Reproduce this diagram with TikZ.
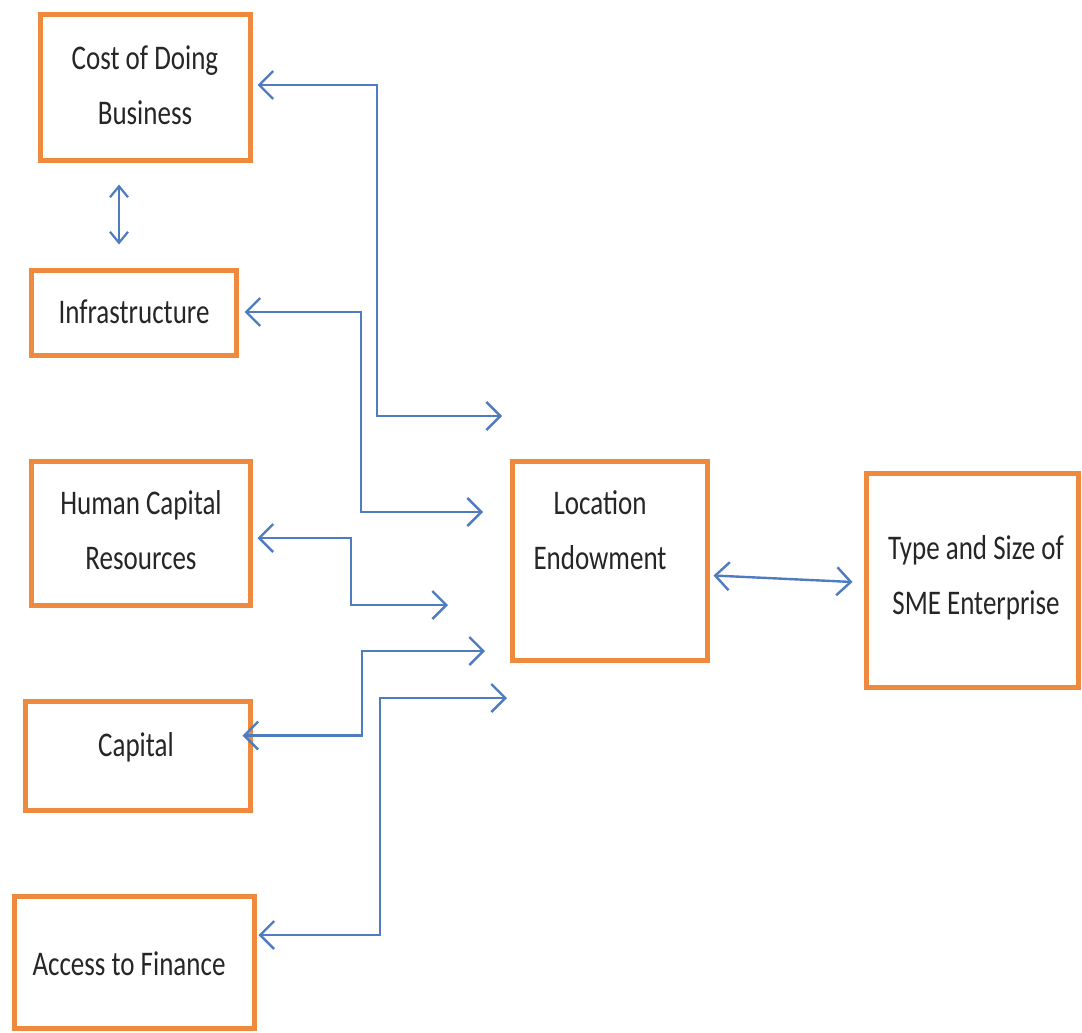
\documentclass[tikz,border=0pt]{standalone}
\usepackage{fontspec}
\setmainfont{Carlito}
\usetikzlibrary{arrows.meta,calc}
\definecolor{boxorange}{RGB}{238,137,62}
\definecolor{linkblue}{RGB}{79,124,192}
\newcommand{\lbltxt}[1]{\scalebox{1}[1.28]{\begin{tabular}{@{}c@{}}#1\end{tabular}}}
\begin{document}
\begin{tikzpicture}[x=1pt,y=-1pt,
  box/.style={draw=boxorange,line width=5pt,rectangle,inner sep=0pt},
  txt/.style={font=\fontsize{27}{43}\selectfont,text=black!85,inner sep=0pt},
  link/.style={draw=linkblue,line width=2.4pt,
    arrows={Straight Barb[length=14pt,width=28pt,line width=2.4pt]-Straight Barb[length=14pt,width=28pt,line width=2.4pt]}},
  linksmall/.style={draw=linkblue,line width=2.2pt,
    arrows={Straight Barb[length=11pt,width=18pt,line width=2.2pt]-Straight Barb[length=11pt,width=18pt,line width=2.2pt]}}]
\useasboundingbox (0,0) rectangle (1082,1033);
\fill[white] (0,0) rectangle (1082,1033);
% boxes
\node[box,minimum width=210pt,minimum height=145pt] (cost) at (145,87.5) {};
\node[box,minimum width=205pt,minimum height=85pt] (infra) at (133.5,312.5) {};
\node[box,minimum width=219pt,minimum height=144pt] (hc) at (140.5,533) {};
\node[box,minimum width=225pt,minimum height=109pt] (cap) at (137.5,755.5) {};
\node[box,minimum width=240pt,minimum height=132pt] (acc) at (134,962) {};
\node[box,minimum width=195pt,minimum height=199pt] (loc) at (609.5,560.5) {};
\node[box,minimum width=212pt,minimum height=214pt] (type) at (972,580) {};
% texts
\node[txt] (costt) at (145,86) {\lbltxt{Cost of Doing\\Business}};
\node[txt] (infrat) at (134,312) {\lbltxt{Infrastructure}};
\node[txt] (hct) at (141,531) {\lbltxt{Human Capital\\Resources}};
\node[txt] (capt) at (136,745) {\lbltxt{Capital}};
\node[txt] (acct) at (129,964) {\lbltxt{Access to Finance}};
\node[txt] (loct) at (600,531) {\lbltxt{Location\\Endowment}};
\node[txt] (typet) at (976,576) {\lbltxt{Type and Size of\\SME Enterprise}};
% free ends
\coordinate (e1) at (502,416);
\coordinate (e2) at (483,512);
\coordinate (e3) at (448,605);
\coordinate (e4) at (485,651);
\coordinate (e5) at (507,698);
% connectors
\draw[link] ($(cost.east)+(5,-2.5)$) -| ([xshift=-125pt]e1) -- (e1);
\draw[link] ($(infra.east)+(6,-0.5)$) -| ([xshift=-122pt]e2) -- (e2);
\draw[link] ($(hc.east)+(5,5)$) -| ([xshift=-97pt]e3) -- (e3);
\draw[link] ($(cap.east)+(-10,-20)$) -| ([xshift=-123pt]e4) -- (e4);
\draw[link] ($(acc.east)+(2,-27)$) -| ([xshift=-127pt]e5) -- (e5);
\draw[linksmall] ($(cost.south)+(-26,22)$) -- ($(infra.north)+(-14.5,-23)$);
\draw[link] ($(loc.east)+(4,15)$) -- ($(type.west)+(-11,2)$);
\end{tikzpicture}
\end{document}
